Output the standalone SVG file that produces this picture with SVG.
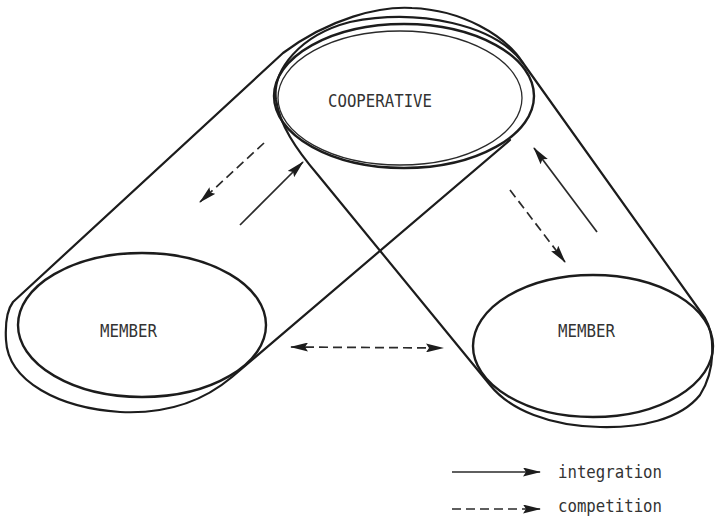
<svg xmlns="http://www.w3.org/2000/svg" width="715" height="517" viewBox="0 0 715 517">
<style>
.outline{fill:none;stroke:#1c1c1c;stroke-width:2.2;stroke-linejoin:round;stroke-linecap:round}
.thin{fill:none;stroke:#2a2a2a;stroke-width:1.3}
.thick{fill:none;stroke:#1c1c1c;stroke-width:2.4}
.lbl{font-family:"DejaVu Sans Mono","Liberation Mono",monospace;fill:#333333;font-size:17px}
.sol{fill:none;stroke:#2a2a2a;stroke-width:1.7}
.dsh{fill:none;stroke:#2a2a2a;stroke-width:1.7;stroke-dasharray:9 5}
</style>
<defs>
<marker id="ah" viewBox="0 0 18 9" refX="17" refY="4.5" markerWidth="18" markerHeight="9" markerUnits="userSpaceOnUse" orient="auto-start-reverse">
<path d="M0,0 L18,4.5 L0,9 L3,4.5 Z" fill="#1c1c1c"/>
</marker>
</defs>
<rect width="715" height="517" fill="#ffffff"/>
<g id="tubes">
<path class="outline" d="M510,140 L232,377 C200,404 160,414 120,412 C60,408 8,382 6,340 C5,322 7,310 13,302 L283,53 C330,18 380,6 412,8 C462,10 505,35 523,63"/>
<path class="outline" d="M523,63 L705,318 C715,335 716,370 700,395 C680,420 640,428 600,427 C550,426 510,410 490,385 L318,175 C295,148 280,125 276,100 C272,70 300,35 350,22 C420,8 495,25 523,63"/>
</g>
<g id="cooperative">
<ellipse class="thick" cx="404" cy="96" rx="130" ry="72"/>
<ellipse class="thin" cx="400" cy="98" rx="122" ry="67"/>
<text class="lbl" x="380" y="107" text-anchor="middle" textLength="104" lengthAdjust="spacingAndGlyphs">COOPERATIVE</text>
</g>
<g id="member-left">
<ellipse class="thick" cx="142" cy="325" rx="124" ry="72"/>
<text class="lbl" x="128.5" y="337" text-anchor="middle" textLength="57" lengthAdjust="spacingAndGlyphs">MEMBER</text>
</g>
<g id="member-right">
<ellipse class="thick" cx="593" cy="346" rx="120" ry="71"/>
<text class="lbl" x="586.5" y="337" text-anchor="middle" textLength="57" lengthAdjust="spacingAndGlyphs">MEMBER</text>
</g>
<g id="connectors">
<line class="dsh" x1="264" y1="143" x2="200" y2="202" marker-end="url(#ah)"/>
<line class="sol" x1="240" y1="225" x2="303" y2="162" marker-end="url(#ah)"/>
<line class="sol" x1="597" y1="232" x2="534" y2="148" marker-end="url(#ah)"/>
<line class="dsh" x1="510" y1="190" x2="565" y2="262" marker-end="url(#ah)"/>
<line class="dsh" x1="291" y1="347" x2="443" y2="348" marker-start="url(#ah)" marker-end="url(#ah)"/>
</g>
<g id="legend">
<line class="sol" x1="452" y1="472" x2="540" y2="472" marker-end="url(#ah)"/>
<text class="lbl" x="558" y="478" textLength="104" lengthAdjust="spacingAndGlyphs">integration</text>
<line class="dsh" x1="452" y1="509" x2="540" y2="509" marker-end="url(#ah)"/>
<text class="lbl" x="558" y="512" textLength="104" lengthAdjust="spacingAndGlyphs">competition</text>
</g>
</svg>
